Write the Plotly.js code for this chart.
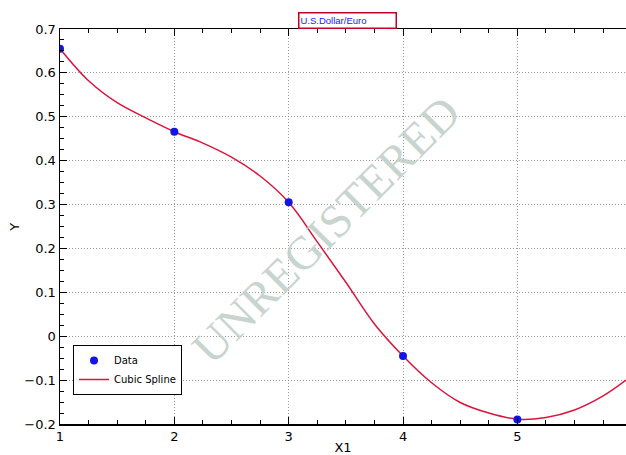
<!DOCTYPE html>
<html>
<head>
<meta charset="utf-8">
<script src="https://cdn.plot.ly/plotly-3.0.1.min.js"></script>
<style>html,body{margin:0;padding:0;background:#fff;}#chart{width:626px;height:455px;}</style>
</head>
<body>
<div id="chart"></div>
<script>
// Data points
var dataX = [1, 2, 3, 4, 5];
var dataY = [0.655, 0.466, 0.305, -0.045, -0.19];

// Cubic spline curve
var splineX = [1, 1.25, 1.5, 1.75, 2, 2.25, 2.5, 2.75, 3, 3.25, 3.5, 3.75, 4, 4.25, 4.5, 4.75, 5, 5.25, 5.5, 5.75, 5.95];
var splineY = [0.655, 0.582, 0.532, 0.4975, 0.466, 0.44, 0.408, 0.365, 0.305, 0.215, 0.123, 0.028, -0.045, -0.106, -0.151, -0.175, -0.189, -0.185, -0.168, -0.136, -0.1];

var titleText = 'U.S.Dollar/Euro';
var xTitle = 'X1';
var yTitle = 'Y';
var watermark = 'UNREGISTERED';

var traces = [
  {x: splineX, y: splineY, mode: 'lines', name: 'Cubic Spline',
   line: {color: '#dc143c', width: 1.5, shape: 'spline', smoothing: 1}},
  {x: dataX, y: dataY, mode: 'markers', name: 'Data',
   marker: {color: '#1414e6', size: 8}}
];

var axisFont = {family: 'DejaVu Sans, sans-serif', size: 13, color: '#000'};

var layout = {
  width: 626, height: 455,
  margin: {l: 60, r: 0, t: 29, b: 31},
  paper_bgcolor: '#fff', plot_bgcolor: '#fff',
  showlegend: true,
  legend: {
    x: 0.023, y: 0.2, xanchor: 'left', yanchor: 'top',
    bordercolor: '#000', borderwidth: 1, bgcolor: '#fff',
    font: {family: 'DejaVu Sans, sans-serif', size: 10, color: '#000'},
    traceorder: 'reversed', tracegroupgap: 0, itemwidth: 30
  },
  xaxis: {
    range: [1, 5.95], dtick: 1, tick0: 1,
    showline: true, linecolor: '#000', linewidth: 1.5, mirror: 'allticks',
    ticks: 'inside', ticklen: 7, tickcolor: '#000',
    minor: {dtick: 0.25, ticks: 'inside', ticklen: 4, tickcolor: '#000', showgrid: false},
    showgrid: true, gridcolor: '#999', griddash: '1px,2px', gridwidth: 1,
    zeroline: false, tickfont: axisFont,
    title: {text: xTitle, font: axisFont, standoff: 2}
  },
  yaxis: {
    range: [-0.2, 0.7], dtick: 0.1, tick0: 0,
    showline: true, linecolor: '#000', linewidth: 1.5,
    ticks: 'inside', ticklen: 7, tickcolor: '#000',
    minor: {dtick: 0.025, ticks: 'inside', ticklen: 4, tickcolor: '#000', showgrid: false},
    showgrid: true, gridcolor: '#999', griddash: '1px,2px', gridwidth: 1,
    zeroline: false, tickfont: axisFont
  },
  annotations: [
    {text: yTitle, xref: 'paper', yref: 'paper', x: -0.0795, y: 0.497,
     xanchor: 'center', yanchor: 'middle', showarrow: false, textangle: -90,
     font: axisFont},
    {text: titleText, xref: 'paper', yref: 'paper', x: 0.4205, y: 1.0,
     xanchor: 'left', yanchor: 'bottom', showarrow: false, align: 'left',
     width: 94, height: 12,
     font: {family: 'Liberation Sans, Arial, sans-serif', size: 9.5, color: '#2020ff'},
     bordercolor: '#c00020', borderwidth: 1.5, borderpad: 1, bgcolor: '#fff'},
    {text: watermark, xref: 'paper', yref: 'paper', x: 0.47, y: 0.49,
     xanchor: 'center', yanchor: 'middle', showarrow: false, textangle: -45,
     font: {family: 'Liberation Serif, DejaVu Serif, serif', size: 47, color: 'rgba(190,205,198,0.85)'}}
  ]
};

Plotly.newPlot('chart', traces, layout, {displayModeBar: false, staticPlot: true});
</script>
</body>
</html>
